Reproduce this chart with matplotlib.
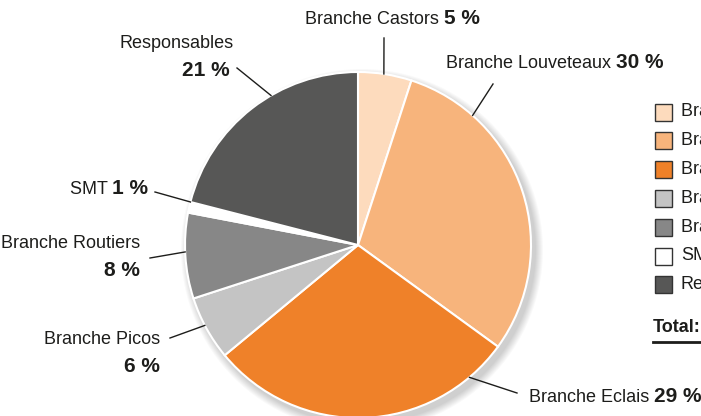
import numpy as np
import matplotlib.pyplot as plt
from matplotlib.patches import Rectangle, Circle

names = ["Branche Castors", "Branche Louveteaux", "Branche Eclais", "Branche Picos",
         "Branche Routiers", "SMT", "Responsables"]
shares = [5, 30, 29, 6, 8, 1, 21]
colors = ["#FDDBBD", "#F7B47C", "#EF8129", "#C4C4C4", "#878787", "#FFFFFF", "#575756"]

plt.rcParams['font.family'] = ['Liberation Sans Narrow', 'Liberation Sans', 'DejaVu Sans']
INK = "#1d1d1b"

W, H = 701, 416
fig = plt.figure(figsize=(W / 100, H / 100), dpi=100)
ax = fig.add_axes([0, 0, 1, 1])
ax.set_xlim(0, W)
ax.set_ylim(0, H)
ax.axis('off')

def Y(y):
    return H - y

cx, cy, R = 358, 245, 173

# soft shadow
for k in range(8):
    ax.add_patch(Circle((cx + 4, Y(cy + 5)), R + 8 - k, color='black', alpha=0.025, lw=0, zorder=1))

ax.pie(shares, colors=colors, startangle=90, counterclock=False,
       center=(cx, Y(cy)), radius=R, frame=True,
       wedgeprops=dict(edgecolor='white', linewidth=1.5, zorder=2))
ax.set_xlim(0, W)
ax.set_ylim(0, H)
ax.axis('off')

# label layout: leader anchor angle (clockwise from top), leader start, text spec
labels = [
    (8.6, (384, 38), 'inline', (305, 20)),
    (41.5, (493, 84), 'inline', (446, 63)),
    (139.9, (517, 393), 'inline', (529, 398)),
    (242.3, (170, 338), 'stack', (160, 340)),
    (267.7, (150, 258), 'stack', (140, 244)),
    (284.4, (155, 192), 'inline', (70, 190)),
    (329.8, (237, 68), 'stack', (230, 43)),
]

for name, val, (ang, start, kind, pos) in zip(names, shares, labels):
    a = np.deg2rad(ang)
    ex, ey = cx + R * np.sin(a), cy - R * np.cos(a)
    ax.plot([start[0], ex], [Y(start[1]), Y(ey)], color=INK, lw=1, zorder=3)
    pct = f"{val} %"
    if kind == 'inline':
        t = ax.text(pos[0], Y(pos[1]), name + " ", fontsize=13, color=INK, ha='left', va='center')
        ax.annotate(pct, xy=(1, 0), xycoords=t, xytext=(0, 0), textcoords='offset points',
                    fontsize=15, fontweight='bold', color=INK, ha='left', va='bottom')
    else:
        if name == "Responsables":
            ax.text(177, Y(pos[1]), name, fontsize=13, color=INK, ha='center', va='center')
        else:
            ax.text(pos[0], Y(pos[1]), name, fontsize=13, color=INK, ha='right', va='center')
        ax.text(pos[0], Y(pos[1] + 27), pct, fontsize=15, fontweight='bold', color=INK,
                ha='right', va='center')

# legend (cropped at the right edge)
for i, (name, c) in enumerate(zip(names, colors)):
    yc = 112 + i * 28.8
    ax.add_patch(Rectangle((655, Y(yc + 8.5)), 17, 17, facecolor=c, edgecolor='#333333', lw=1, zorder=3))
    ax.text(681, Y(yc), name, fontsize=13, color=INK, ha='left', va='center')

ax.text(653, Y(327), "Total:", fontsize=13, fontweight='bold', color=INK, ha='left', va='center')
ax.plot([653, 720], [Y(342), Y(342)], color=INK, lw=2, clip_on=False)

fig.savefig("out.png", dpi=100)
